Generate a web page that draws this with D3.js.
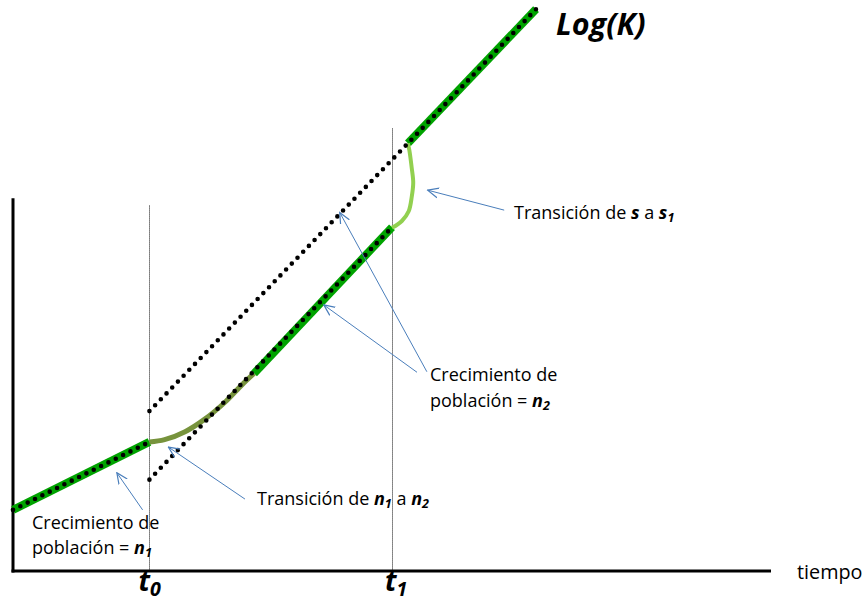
<!DOCTYPE html>
<html>
<head>
<meta charset="utf-8">
<script src="https://cdn.jsdelivr.net/npm/d3@7"></script>
<style>
  body { margin:0; background:#fff; }
  svg text { font-family:"Open Sans", sans-serif; fill:#000; }
</style>
</head>
<body>
<svg id="chart" width="867" height="605"></svg>
<script>
// abstract units: time 0..100, log(K) 0..100
let t0 = 18, t1 = 50;

// straight pieces of Log(K), [t, v]
let growthN1   = [[0, 10.7], [18, 22.6]];
let growthN2   = [[31.8, 34.6], [50, 60.2]];
let growthS1   = [[52.1, 74.9], [69, 98.4]];
let dottedLow  = [[18, 16], [50, 60.2]];
let dottedHigh = [[18, 28], [52.1, 74.9], [69, 98.4]];

// transitions
let transN = [[18, 22.6], [20, 23.0], [22.7, 24.4], [25.3, 26.6], [28, 29.6], [30.2, 32.6], [31.8, 34.6]];
let transS = [[50, 60.1], [51.3, 61.3], [52.2, 63.0], [52.6, 65.5], [52.8, 68.0], [52.6, 70.6], [52.3, 73.6], [52.1, 74.9]];

// annotations: arrow tail / tip in [t, v]
let arrows = [
  {from:[17.1, 10.7], to:[13.7, 17.2]},
  {from:[30.6, 12.6], to:[20.5, 21.7]},
  {from:[64.8, 63.2], to:[54.7, 66.7]},
  {from:[53.3, 34.8], to:[41.0, 46.6]},
  {from:[54.6, 34.9], to:[43.1, 62.8]}
];

let svg = d3.select("#chart");
let x = d3.scaleLinear().domain([0, 100]).range([13, 771]);
let y = d3.scaleLinear().domain([0, 100]).range([571, 0]);

let line = d3.line().x(d => x(d[0])).y(d => y(d[1]));
let smooth = d3.line().x(d => x(d[0])).y(d => y(d[1])).curve(d3.curveCatmullRom);

svg.append("defs").append("marker")
   .attr("id", "head")
   .attr("viewBox", "0 0 12 12")
   .attr("refX", 11).attr("refY", 6)
   .attr("markerWidth", 12).attr("markerHeight", 12)
   .attr("markerUnits", "userSpaceOnUse")
   .attr("orient", "auto")
   .append("path")
   .attr("d", "M0,1 L11,6 L0,11")
   .attr("fill", "none")
   .attr("stroke", "#4a7ebb")
   .attr("stroke-width", 1.2);

// vertical guides at t0, t1 (snapped to the pixel so the dots stay crisp)
svg.selectAll(".guide")
   .data([{t:t0, top:64}, {t:t1, top:77.5}])
   .enter().append("line")
   .attr("class", "guide")
   .attr("x1", d => Math.round(x(d.t)) + 0.5).attr("x2", d => Math.round(x(d.t)) + 0.5)
   .attr("y1", d => y(d.top)).attr("y2", y(0))
   .attr("stroke", "#111").attr("stroke-width", 1)
   .attr("stroke-dasharray", "1,1");

// axes (plain lines, no ticks)
svg.append("line")
   .attr("x1", x(0)).attr("x2", x(0))
   .attr("y1", y(65.3)).attr("y2", y(0) + 1.5)
   .attr("stroke", "#000").attr("stroke-width", 3);
svg.append("line")
   .attr("x1", x(0) - 1.5).attr("x2", x(100))
   .attr("y1", y(0)).attr("y2", y(0))
   .attr("stroke", "#000").attr("stroke-width", 3);

// green pieces
[growthN1, growthN2, growthS1].forEach(function(p) {
  svg.append("path").attr("d", line(p))
     .attr("fill", "none").attr("stroke", "#00a300").attr("stroke-width", 8);
});

svg.append("path").attr("d", smooth(transN))
   .attr("fill", "none").attr("stroke", "#77933c").attr("stroke-width", 5);
svg.append("path").attr("d", smooth(transS))
   .attr("fill", "none").attr("stroke", "#92d050").attr("stroke-width", 4);

// black round dots
[growthN1, dottedLow, dottedHigh].forEach(function(p) {
  svg.append("path").attr("d", line(p))
     .attr("fill", "none").attr("stroke", "#000").attr("stroke-width", 4.6)
     .attr("stroke-linecap", "round").attr("stroke-dasharray", "0,8.2");
});

// arrows
svg.selectAll(".arrow")
   .data(arrows)
   .enter().append("line")
   .attr("class", "arrow")
   .attr("x1", d => x(d.from[0])).attr("y1", d => y(d.from[1]))
   .attr("x2", d => x(d.to[0])).attr("y2", d => y(d.to[1]))
   .attr("stroke", "#4a7ebb").attr("stroke-width", 1)
   .attr("marker-end", "url(#head)");

// labels
function label(px, py, parts, size) {
  let t = svg.append("text").attr("x", px).attr("y", py).style("font-size", size + "px");
  parts.forEach(function(p) {
    let s = t.append("tspan").text(p.s);
    if (p.b) s.style("font-weight", "bold").style("font-style", "italic");
    if (p.sub) s.attr("baseline-shift", "-25%").style("font-size", (size * 0.7) + "px");
  });
  return t;
}

let fs = 18;
label(556, 35, [{s:"Log(K)", b:true}], 30.5);
label(x(t0) - 11, 591, [{s:"t", b:true}, {s:"0", b:true, sub:true}], 28);
label(x(t1) - 7, 591, [{s:"t", b:true}, {s:"1", b:true, sub:true}], 28);
label(797, 579, [{s:"tiempo"}], 19.8);

label(514, 219, [{s:"Transición de "}, {s:"s", b:true}, {s:" a "}, {s:"s", b:true}, {s:"1", b:true, sub:true}], fs);
label(430, 381, [{s:"Crecimiento de"}], fs);
label(430, 406.5, [{s:"población = "}, {s:"n", b:true}, {s:"2", b:true, sub:true}], fs);
label(257, 505, [{s:"Transición de "}, {s:"n", b:true}, {s:"1", b:true, sub:true}, {s:" a "}, {s:"n", b:true}, {s:"2", b:true, sub:true}], fs);
label(32, 528.5, [{s:"Crecimiento de"}], fs);
label(32, 554, [{s:"población = "}, {s:"n", b:true}, {s:"1", b:true, sub:true}], fs);
</script>
</body>
</html>
